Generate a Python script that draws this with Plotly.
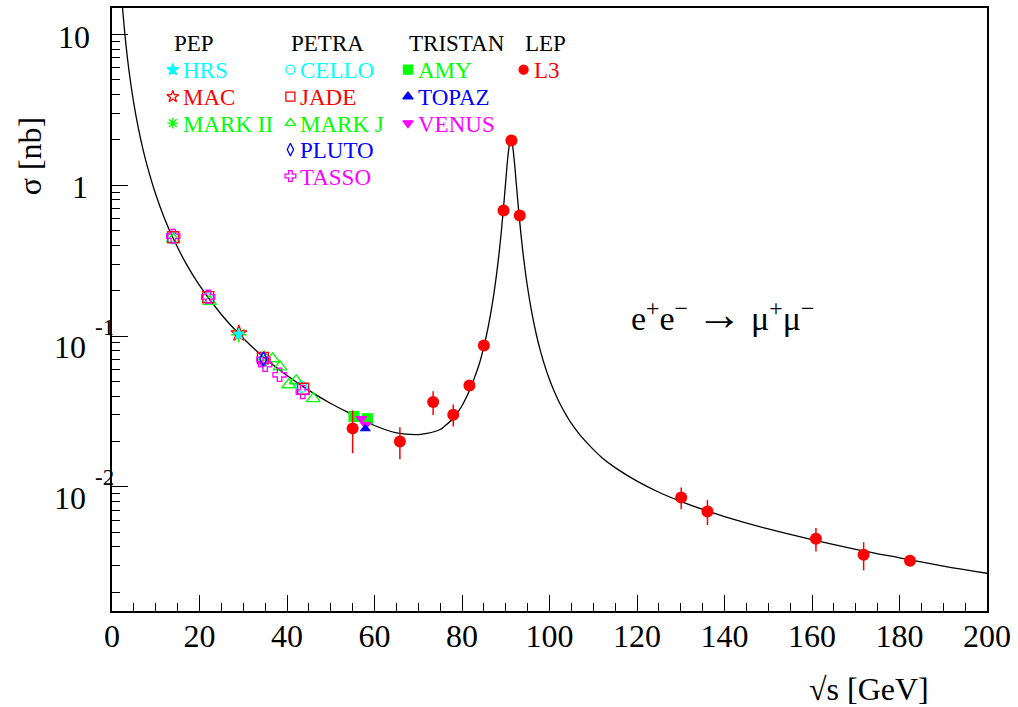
import math
import plotly.graph_objects as go

# ---------------- data ----------------
curve_x = [2.0, 2.5, 3, 3.5, 4, 5, 6, 7, 8, 10, 12, 14, 17, 20, 25, 30, 35, 40, 45, 50,
           55, 60, 65, 70, 72, 75, 76, 78, 80, 82, 83, 84, 85, 86, 87, 88, 88.5, 89, 89.5,
           90, 90.5, 91, 91.2, 91.5, 92, 92.5, 93, 93.5, 94, 94.5, 95, 96, 97, 98, 99, 100,
           101, 102, 103, 104, 105, 107, 110, 112, 115, 120, 125, 130, 135, 140, 150, 160,
           170, 180, 190, 200]
curve_y = [21.7, 13.9, 9.64, 7.09, 5.43, 3.47, 2.41, 1.77, 1.36, 0.868, 0.603, 0.443, 0.300,
           0.217, 0.139, 0.0967, 0.0710, 0.0548, 0.0436, 0.0357, 0.0301, 0.0255, 0.0228,
           0.0222, 0.0226, 0.0240, 0.0252, 0.0285, 0.0345, 0.0455, 0.0544, 0.066, 0.085,
           0.1156, 0.1684, 0.2706, 0.360, 0.4975, 0.717, 1.066, 1.557, 1.973, 2.01, 1.882,
           1.403, 0.955, 0.654, 0.465, 0.344, 0.264, 0.209, 0.1406, 0.102, 0.0782, 0.0624,
           0.0515, 0.0435, 0.0375, 0.0329, 0.0293, 0.0263, 0.0220, 0.0177, 0.0156, 0.0134,
           0.0109, 0.0092, 0.0080, 0.00707, 0.00635, 0.00525, 0.00446, 0.00385, 0.00338,
           0.00298, 0.00267]

l3_x = [55.0, 65.8, 73.4, 78.0, 81.7, 85.0, 89.5, 91.3, 93.2, 130.1, 136.1, 160.9, 171.8, 182.4]
l3_y = [0.0244, 0.0200, 0.0365, 0.0301, 0.047, 0.0865, 0.68, 1.98, 0.63, 0.0085, 0.00686,
        0.00452, 0.00354, 0.00323]
l3_err = [0.0077, 0.0048, 0.0066, 0.005, 0.004, 0.005, 0.02, 0.02, 0.02, 0.0014, 0.0013,
          0.0008, 0.00075, 0.0002]

hrs_x, hrs_y = [29.0], [0.103]
mac_x, mac_y = [29.0], [0.104]
mark2_x, mark2_y = [29.0], [0.102]
cello_x = [14.0, 22.0, 34.5, 43.3]
cello_y = [0.445, 0.178, 0.068, 0.046]
jade_x = [14.0, 22.0, 34.5, 43.7]
jade_y = [0.452, 0.181, 0.0715, 0.0447]
markj_x = [14.0, 22.3, 34.8, 36.7, 38.4, 40.4, 42.1, 46.0]
markj_y = [0.44, 0.170, 0.0725, 0.0707, 0.0625, 0.0475, 0.0505, 0.0384]
pluto_x, pluto_y = [34.6], [0.0705]
tasso_x = [14.0, 22.0, 34.6, 35.0, 38.3, 43.6]
tasso_y = [0.46, 0.182, 0.0700, 0.0645, 0.0553, 0.0425]
amy_x, amy_y = [55.3, 58.4], [0.0293, 0.0283]
topaz_x, topaz_y = [57.9], [0.0243]
venus_x, venus_y = [57.0, 58.0], [0.0283, 0.0258]

x_ticks = [0, 20, 40, 60, 80, 100, 120, 140, 160, 180, 200]
y_ticks = [10, 1, 0.1, 0.01]
y_tick_base = ["10", "1", "10", "10"]
y_tick_exp = ["", "", "-1", "-2"]
y_minor = [m * 10 ** e for e in (-3, -2, -1, 0, 1) for m in range(2, 10)]

FONT = "Liberation Serif"
CYAN, RED, GREEN, BLUE, MAG = "#00FFFF", "#FF0000", "#00FF00", "#0000FF", "#FF00FF"

# plot frame in page pixels (for placing text like the original)
FL, FR, FT, FB = 112, 990, 6.7, 610.7
X_RANGE = [0, 200]
Y_LOG_RANGE = [-2.824, 1.176]
def pxx(px):
    return (px - FL) / (FR - FL)
def pxy(py):
    return (FB - py) / (FB - FT)
def px_to_xdata(px):
    return X_RANGE[0] + pxx(px) * (X_RANGE[1] - X_RANGE[0])
def py_to_ydata(py):
    return 10 ** (Y_LOG_RANGE[0] + pxy(py) * (Y_LOG_RANGE[1] - Y_LOG_RANGE[0]))

fig = go.Figure()

fig.add_trace(go.Scatter(x=curve_x, y=curve_y, mode="lines",
                         line=dict(color="black", width=1.3, shape="spline", smoothing=1.0),
                         hoverinfo="skip"))

def pts(x, y, symbol, color, size=11, lw=1.3):
    fig.add_trace(go.Scatter(x=x, y=y, mode="markers",
                             marker=dict(symbol=symbol, size=size, color=color,
                                         line=dict(color=color, width=lw))))

pts(markj_x, markj_y, "triangle-up-open", GREEN, 12)
pts(cello_x, cello_y, "circle-open", CYAN, 11)
pts(jade_x, jade_y, "square-open", RED, 11)
pts(tasso_x, tasso_y, "cross-open", MAG, 11)
pts(pluto_x, pluto_y, "diamond-tall-open", BLUE, 10)
pts(mark2_x, mark2_y, "asterisk-open", GREEN, 13, 1.5)
pts(mac_x, mac_y, "star-open", RED, 12)
pts(hrs_x, hrs_y, "star", CYAN, 8)
pts(amy_x, amy_y, "square", GREEN, 11, 0)
pts(venus_x, venus_y, "triangle-down", MAG, 11, 0)
pts(topaz_x, topaz_y, "triangle-up", BLUE, 10, 0)

fig.add_trace(go.Scatter(x=l3_x, y=l3_y, mode="markers",
                         marker=dict(symbol="circle", size=12, color=RED),
                         error_y=dict(type="data", array=l3_err, color=RED,
                                      thickness=1.5, width=0)))

# ---------------- legend block ----------------
leg_cols = [
    ("PEP", 173, [("HRS", "star", CYAN), ("MAC", "star-open", RED), ("MARK II", "asterisk-open", GREEN)]),
    ("PETRA", 291, [("CELLO", "circle-open", CYAN), ("JADE", "square-open", RED),
                    ("MARK J", "triangle-up-open", GREEN), ("PLUTO", "diamond-tall-open", BLUE),
                    ("TASSO", "cross-open", MAG)]),
    ("TRISTAN", 409, [("AMY", "square", GREEN), ("TOPAZ", "triangle-up", BLUE),
                      ("VENUS", "triangle-down", MAG)]),
    ("LEP", 525, [("L3", "circle", RED)]),
]
row_y = [68.5, 95.5, 122, 148.5, 175]
annotations = []
for head, cx, entries in leg_cols:
    annotations.append(dict(x=pxx(cx - 1), y=pxy(42), xref="paper", yref="paper", text=head,
                            showarrow=False, xanchor="left", yanchor="middle",
                            font=dict(family=FONT, size=23, color="black")))
    for i, (name, sym, col) in enumerate(entries):
        fig.add_trace(go.Scatter(x=[px_to_xdata(cx)], y=[py_to_ydata(row_y[i])], mode="markers",
                                 hoverinfo="skip",
                                 marker=dict(symbol=sym, size=9, color=col,
                                             line=dict(color=col, width=1.3))))
        annotations.append(dict(x=pxx(cx + 8), y=pxy(row_y[i] + 1), xref="paper", yref="paper",
                                text=name, showarrow=False, xanchor="left", yanchor="middle",
                                font=dict(family=FONT, size=23, color=col)))

# y tick labels, ROOT-style (base + raised exponent)
for v, base, ex in zip(y_ticks, y_tick_base, y_tick_exp):
    if ex:
        annotations.append(dict(x=pxx(88), y=math.log10(v), xref="paper", yref="y", text=base,
                                showarrow=False, xanchor="right", yanchor="middle", yshift=-11,
                                font=dict(family=FONT, size=32, color="black")))
        annotations.append(dict(x=pxx(93), y=math.log10(v), xref="paper", yref="y", text=ex,
                                showarrow=False, xanchor="left", yanchor="middle", yshift=9,
                                font=dict(family=FONT, size=23, color="black")))
    else:
        annotations.append(dict(x=pxx(92 if base == "10" else 90), y=math.log10(v),
                                xref="paper", yref="y", text=base,
                                showarrow=False, xanchor="right", yanchor="middle", yshift=-2,
                                font=dict(family=FONT, size=32, color="black")))

annotations.append(dict(x=pxx(631), y=pxy(314), xref="paper", yref="paper",
                        text="e<sup>+</sup>e<sup>\u2212</sup> <span style=\"font-size:46px\">\u2192</span> "
                             "\u03bc<sup>+</sup>\u03bc<sup>\u2212</sup>",
                        showarrow=False, xanchor="left", yanchor="middle",
                        font=dict(family=FONT, size=34, color="black")))
annotations.append(dict(x=pxx(30), y=pxy(155), xref="paper", yref="paper", text="\u03c3 [nb]",
                        textangle=-90, showarrow=False, xanchor="center", yanchor="middle",
                        font=dict(family=FONT, size=32, color="black")))
annotations.append(dict(x=pxx(872), y=pxy(689), xref="paper", yref="paper", text="\u221as [GeV]",
                        showarrow=False, xanchor="center", yanchor="middle",
                        font=dict(family=FONT, size=32, color="black")))

fig.update_layout(
    width=1018, height=707,
    margin=dict(l=FL, r=1018 - FR, t=FT, b=707 - FB),
    paper_bgcolor="white", plot_bgcolor="white",
    showlegend=False,
    font=dict(family=FONT, color="black"),
    annotations=annotations,
    xaxis=dict(range=X_RANGE, tickmode="array", tickvals=x_ticks,
               showline=True, linecolor="black", linewidth=1.5, mirror=True,
               ticks="inside", ticklen=16, tickwidth=1, tickcolor="black",
               minor=dict(ticks="inside", ticklen=8, dtick=5, tick0=0, tickcolor="black",
                          tickwidth=1, showgrid=False),
               showgrid=False, zeroline=False, ticklabelstandoff=-4,
               tickfont=dict(family=FONT, size=32, color="black")),
    yaxis=dict(type="log", range=Y_LOG_RANGE, tickmode="array",
               tickvals=y_ticks, showticklabels=False,
               showline=True, linecolor="black", linewidth=1.5, mirror=True,
               ticks="inside", ticklen=16, tickwidth=1, tickcolor="black",
               minor=dict(ticks="inside", ticklen=8, tickmode="array", tickvals=y_minor,
                          tickcolor="black", tickwidth=1, showgrid=False),
               showgrid=False, zeroline=False),
)

fig.write_html("out.html", config={"displayModeBar": False},
               post_script="document.body.style.margin='0px';")
